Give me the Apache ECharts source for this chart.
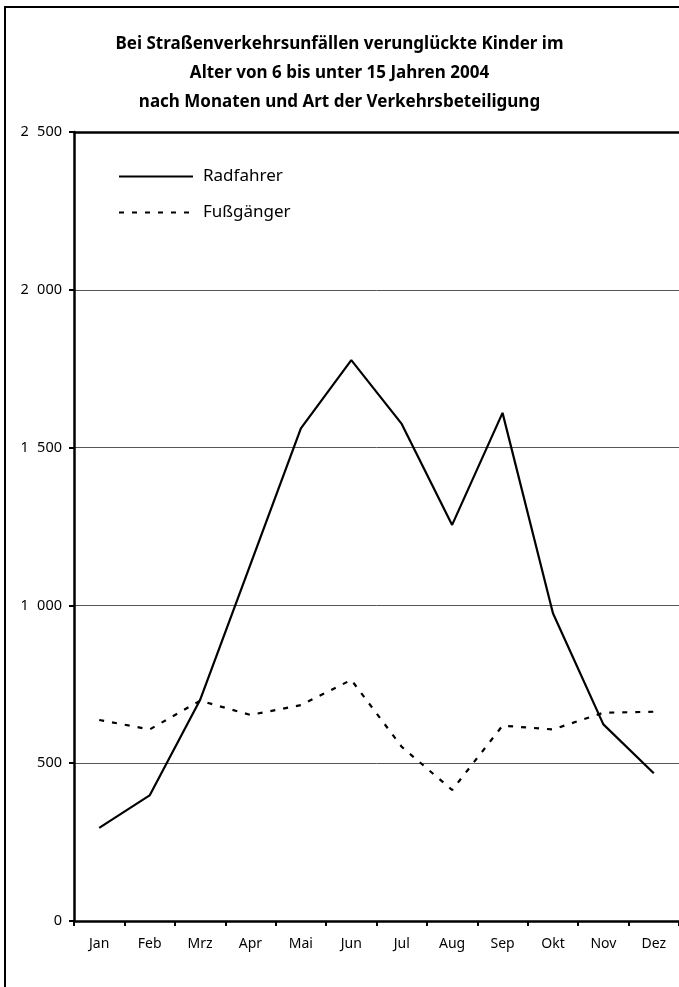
<!DOCTYPE html>
<html>
<head>
<meta charset="utf-8">
<script src="https://cdn.jsdelivr.net/npm/echarts@6/dist/echarts.min.js"></script>
<style>html,body{margin:0;padding:0;background:#fff;}#c{width:679px;height:987px;}</style>
</head>
<body>
<div id="c"></div>
<script>
const months = ['Jan','Feb','Mrz','Apr','Mai','Jun','Jul','Aug','Sep','Okt','Nov','Dez'];
const radfahrer = [295, 398, 700, 1130, 1561, 1777, 1575, 1255, 1610, 975, 623, 468];
const fussgaenger = [637, 607, 698, 653, 684, 764, 552, 415, 619, 607, 660, 663];
const yTicks = [0, 500, 1000, 1500, 2000, 2500];
const titleLines = ['Bei Straßenverkehrsunfällen verunglückte Kinder im', 'Alter von 6 bis unter 15 Jahren 2004', 'nach Monaten und Art der Verkehrsbeteiligung'];
const seriesNames = ['Radfahrer', 'Fußgänger'];

const FONT = 'Noto Sans';
const chart = echarts.init(document.getElementById('c'), null, {renderer: 'canvas'});
chart.setOption({
  animation: false,
  backgroundColor: '#fff',
  textStyle: {fontFamily: FONT, color: '#000'},
  title: {
    text: titleLines.join('\n'),
    left: 'center',
    top: 25,
    textStyle: {fontFamily: FONT, fontSize: 17, fontWeight: 'bold', color: '#000', lineHeight: 29}
  },
  graphic: [{
    type: 'rect', shape: {x: 5, y: 7, width: 720, height: 1020},
    style: {fill: 'none', stroke: '#000', lineWidth: 2}, silent: true, z: 100
  }],
  legend: {
    orient: 'vertical', left: 113, top: 163, itemWidth: 74, itemHeight: 14, itemGap: 19,
    itemStyle: {opacity: 0, borderWidth: 0},
    textStyle: {fontFamily: FONT, fontSize: 17, color: '#000', padding: [0, 0, 0, 5]},
    data: seriesNames
  },
  grid: {left: 74, top: 132, width: 607, bottom: 66, containLabel: false},
  xAxis: [{
    type: 'category', data: months, boundaryGap: true,
    axisLine: {show: true, lineStyle: {color: '#000', width: 2.5}},
    axisTick: {show: true, length: 5, lineStyle: {color: '#000', width: 2}},
    axisLabel: {fontFamily: FONT, fontSize: 14, color: '#000', margin: 16},
    splitLine: {show: false}
  }, {
    type: 'category', data: months, position: 'top',
    axisLine: {show: true, lineStyle: {color: '#000', width: 2.5}},
    axisTick: {show: false}, axisLabel: {show: false}, splitLine: {show: false}
  }],
  yAxis: {
    type: 'value', min: yTicks[0], max: yTicks[yTicks.length - 1], interval: 500,
    axisLine: {show: true, lineStyle: {color: '#000', width: 2.5}},
    axisTick: {show: true, length: 5, lineStyle: {color: '#000', width: 2}},
    axisLabel: {fontFamily: FONT, fontSize: 14.5, color: '#000', margin: 12,
      formatter: v => String(v).replace(/\B(?=(\d{3})+(?!\d))/g, '\u2007')},
    splitLine: {show: true, lineStyle: {color: '#555', width: 1}}
  },
  series: [{
    name: seriesNames[0], type: 'line', data: radfahrer, symbol: 'none', showSymbol: false,
    lineStyle: {color: '#000', width: 2.2, type: 'solid'}, itemStyle: {color: '#000'}, z: 3
  }, {
    name: seriesNames[1], type: 'line', data: fussgaenger, symbol: 'none', showSymbol: false,
    lineStyle: {color: '#000', width: 2.2, type: [5, 8]}, itemStyle: {color: '#000'}, z: 3
  }]
});
</script>
</body>
</html>
